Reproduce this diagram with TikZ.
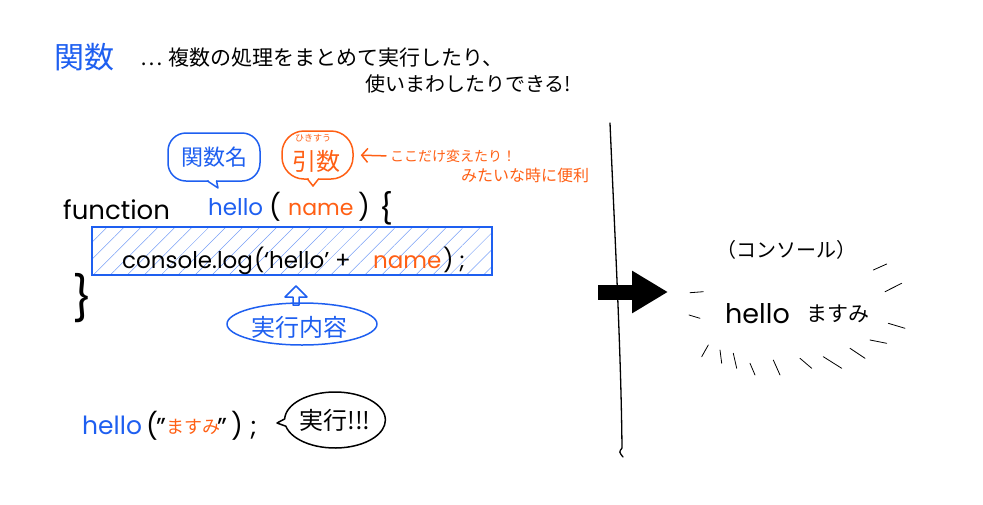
\documentclass[tikz,border=0pt]{standalone}
\usepackage{fontspec}
\setmainfont{Poppins}
\newfontfamily\jp{Noto Sans CJK JP}
\usetikzlibrary{arrows.meta,shapes.geometric,shapes.callouts,patterns.meta,calc}
\definecolor{kblue}{RGB}{30,95,240}
\definecolor{korange}{RGB}{255,95,20}
\begin{document}
\begin{tikzpicture}[x=1pt,y=-1pt,
  lat/.style={inner sep=0pt, font=\fontsize{#1}{#1}\selectfont},
  jpn/.style={inner sep=0pt, font=\jp\fontsize{#1}{#1}\selectfont},
  penline/.style={line width=1.5pt, line cap=round, line join=round},
  thinline/.style={line width=0.8pt, line cap=round},
  ]
\useasboundingbox (0,0) rectangle (983,504);

% title
\node[jpn=30, text=kblue] (kansu) at (84,57) {関数};
\node[jpn=21, anchor=west] (desc1) at (140,58) {…\hspace{6pt}複数の処理をまとめて実行したり、};
\node[jpn=20, anchor=west] (desc2) at (365,84) {使いまわしたりできる!};

% bubble: 関数名
\node[draw=kblue, penline, rounded corners=18pt, minimum width=92pt, minimum height=48pt] (b1) at (214,157) {};
\node[jpn=22, text=kblue] (t1) at (b1) {関数名};
\fill[white] (208.5,178) rectangle (215.5,184);
\draw[kblue, penline] (207.5,181) -- (218,188) -- (216.5,181);

% bubble: 引数
\node[draw=korange, penline, rounded corners=22pt, minimum width=71pt, minimum height=48pt] (b2) at (317.5,155) {};
\node[jpn=24, text=korange] (t2) at (316,161) {引数};
\node[jpn=9, text=korange] (t2f) at (313,138) {ひきすう};
\fill[white] (308.5,176) rectangle (317.5,182);
\draw[korange, penline] (307.5,179) -- (313,186) -- (318.5,179);

\node[jpn=14, text=korange, anchor=west] (t3) at (390,156) {ここだけ変えたり！};
\node[jpn=16, text=korange] (t4) at (525,175) {みたいな時に便利};
\draw[korange, penline, -{Straight Barb[length=6pt,width=14pt]}, shorten <=4pt, shorten >=7pt] (t3.west) -- (b2.east);

% function line
\node[lat=26, anchor=base west] (fn) at (63,219) {function};
\node[lat=23, anchor=base west, text=kblue] (hello1) at (208,215) {hello};
\node[lat=26, anchor=base west] (p1) at (269,216) {(};
\node[lat=22, anchor=base west, text=korange] (name1) at (288,215) {name};
\node[lat=26, anchor=base west] (p2) at (358,216) {)};
\node[lat=30, anchor=base west] (br1) at (379,219) {\{};

% body box
\node[draw=kblue, line width=1.1pt, pattern={Lines[angle=45,distance=12pt,line width=0.5pt]}, pattern color=kblue!60, minimum width=400pt, minimum height=48pt] (box) at (292,251) {};
\node[lat=23, anchor=base west] (cl) at (122,268) {console.log};
\node[lat=23, anchor=base west] (p3) at (254,268) {(};
\node[lat=23, anchor=base west] (hq) at (264,268) {`hello'};
\node[lat=23, anchor=base west] (plus) at (335,268) {+};
\node[lat=23, anchor=base west, text=korange] (name2) at (373,268) {name};
\node[lat=23, anchor=base west] (p4) at (443,268) {)};
\node[lat=23, anchor=base west] (sc1) at (459,268) {;};
\node[lat=44, anchor=base west] (br2) at (72,314) {\}};

% 実行内容
\draw[kblue, penline] (296,286) -- (307,297) -- (299,297) -- (299,305) -- (293,305) -- (293,297) -- (285,297) -- cycle;
\node[draw=kblue, penline, ellipse, minimum width=150pt, minimum height=42pt] (jk) at (302,324) {};
\node[jpn=24, text=kblue] (jkt) at (299,327) {実行内容};

% call line
\node[lat=25, anchor=base west, text=kblue] (hello2) at (82,434) {hello};
\node[lat=26, anchor=base west] (p5) at (146,435) {(};
\node[lat=26, anchor=base west] (q1) at (156,436) {"};
\node[jpn=18, anchor=base west, text=korange] (masumi) at (166,433) {ますみ};
\node[lat=26, anchor=base west] (q2) at (217,436) {"};
\node[lat=26, anchor=base west] (p6) at (231,435) {)};
\node[lat=26, anchor=base west] (sc2) at (250,435) {;};
\node[ellipse callout, draw, penline, minimum width=100pt, minimum height=56pt, callout absolute pointer={(277,423)}, jpn=24] (jikko) at (335,420) {実行!!!};

% black arrow and divider
\coordinate (arrS) at (598,292);
\coordinate (arrE) at (668,292);
\draw[line width=15pt, -{Triangle[length=36pt,width=40pt]}] (arrS) -- (arrE);
\draw[line width=1.3pt, line cap=round] (610,123) .. controls (615,240) and (621,350) .. (622,448) .. controls (619,452) .. (623,457);

% console
\node[jpn=20] (cons) at (786,250) {（コンソール）};
\node[lat=27, anchor=base west] (hello3) at (725,323) {hello};
\node[jpn=21, anchor=base west] (masumi2) at (806,321) {ますみ};
\draw[thinline] (690,292.7) -- (703.3,291.7);
\draw[thinline] (689,315) -- (700,318.3);
\draw[thinline] (873.3,270) -- (886.7,264);
\draw[thinline] (885,291.7) -- (901.7,283.3);
\draw[thinline] (888.3,323.3) -- (905,328.3);
\draw[thinline] (870,340) -- (886.7,343.3);
\draw[thinline] (701.7,356.7) -- (708.3,345);
\draw[thinline] (720,350) -- (721.7,363.3);
\draw[thinline] (733.3,353.3) -- (736.7,368.3);
\draw[thinline] (750,363.3) -- (755,375);
\draw[thinline] (773.3,360) -- (780,375);
\draw[thinline] (800,358.3) -- (811.7,368.3);
\draw[thinline] (823.3,356.7) -- (841.7,368.3);
\draw[thinline] (850,348.3) -- (865,358.3);
\end{tikzpicture}
\end{document}
